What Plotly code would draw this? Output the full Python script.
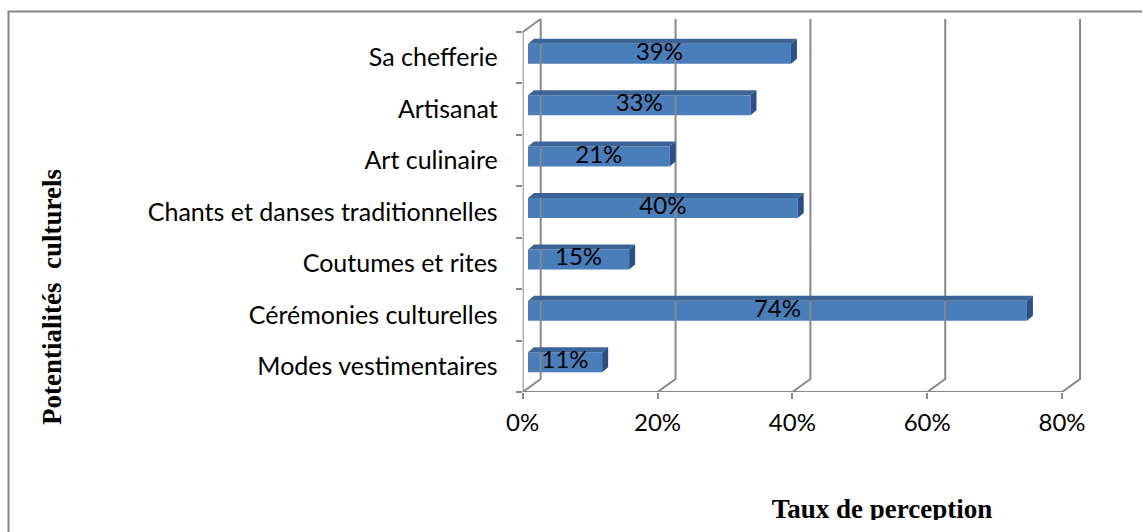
import plotly.graph_objects as go

# ---------------- data ----------------
categories = ["Modes vestimentaires", "Cérémonies culturelles", "Coutumes et rites",
              "Chants et danses traditionnelles", "Art culinaire", "Artisanat", "Sa chefferie"]
values = [11, 74, 15, 40, 21, 33, 39]
x_ticks = [0, 20, 40, 60, 80]
x_tick_labels = ["0%", "20%", "40%", "60%", "80%"]
y_title = "Potentialités  culturels"
x_title = "Taux de perception"

# ---------------- geometry / style ----------------
W, H = 1142, 532
X0_PX, X1_PX = 522.7, 1092.0
PX_PER_PCT = 6.742
Y_BOT_PX, Y_TOP_PX = 392.0, 18.0
PX_PER_CAT = 51.43
XMAX = (X1_PX - X0_PX) / PX_PER_PCT
YMIN = -0.5
YMAX = YMIN + (Y_BOT_PX - Y_TOP_PX) / PX_PER_CAT

DEPTH_DX = 18 / PX_PER_PCT
DEPTH_DY = 13 / PX_PER_CAT
BAR_DX = 5.3 / PX_PER_PCT
BAR_DY = 4 / PX_PER_CAT
BAR_W = 20 / PX_PER_CAT
TOP_DX = 6 / PX_PER_PCT
TOP_DY = 5 / PX_PER_CAT

GRID = "#898989"
FRONT = "#4A7EBB"
TOPC = "#3B6597"
SIDE = "#2D5080"
LABEL_FONT = "Lato"
LABEL_SIZE = 24
CAT_SIZE = 25
n = len(categories)
ypos = list(range(n))
y_top_cat = YMIN + n

fig = go.Figure()

# --- walls / gridlines (back wall shifted in depth) ---
gx, gy = [], []
for t in x_ticks:
    gx += [t, t + DEPTH_DX, t + DEPTH_DX, None]
    gy += [YMIN, YMIN + DEPTH_DY, y_top_cat + DEPTH_DY, None]
gx += [x_ticks[0], x_ticks[-1], None]
gy += [YMIN, YMIN, None]
gx += [0, 0, DEPTH_DX, None]
gy += [YMIN, y_top_cat, y_top_cat + DEPTH_DY, None]
fig.add_trace(go.Scatter(x=gx, y=gy, mode="lines", line=dict(color=GRID, width=2),
                         hoverinfo="skip", showlegend=False, cliponaxis=False))

# --- bars: front faces ---
fig.add_trace(go.Bar(
    y=[p + BAR_DY for p in ypos], x=values, base=[BAR_DX] * n, orientation="h",
    width=BAR_W, marker=dict(color=FRONT, line=dict(width=0)),
    showlegend=False, hoverinfo="skip", textposition="none"))

# --- bars: top and side faces ---
tx, ty, sx, sy = [], [], [], []
for p, v in zip(ypos, values):
    s = BAR_DX
    e = BAR_DX + v
    yt = p + BAR_DY + BAR_W / 2
    yb = p + BAR_DY - BAR_W / 2
    tx += [s, e, e + TOP_DX, s + TOP_DX, s, None]
    ty += [yt, yt, yt + TOP_DY, yt + TOP_DY, yt, None]
    sx += [e, e + TOP_DX, e + TOP_DX, e, e, None]
    sy += [yt, yt + TOP_DY, yb + TOP_DY, yb, yt, None]
fig.add_trace(go.Scatter(x=tx, y=ty, mode="lines", fill="toself", fillcolor=TOPC,
                         line=dict(width=0, color=TOPC), hoverinfo="skip", showlegend=False))
fig.add_trace(go.Scatter(x=sx, y=sy, mode="lines", fill="toself", fillcolor=SIDE,
                         line=dict(width=0, color=SIDE), hoverinfo="skip", showlegend=False))

# --- value labels ---
fig.add_trace(go.Scatter(
    x=[BAR_DX + v / 2 for v in values], y=[p + BAR_DY for p in ypos],
    text=[f"{v}%" for v in values], mode="text", textposition="middle center",
    textfont=dict(family=LABEL_FONT, size=LABEL_SIZE, color="#000000"),
    hoverinfo="skip", showlegend=False, cliponaxis=False))

# --- bottom title, clipped like the reference ---
fig.add_trace(go.Scatter(
    x=[882], y=[-511.5], text=[f"<b>{x_title}</b>"], mode="text", textposition="middle center",
    textfont=dict(family="Liberation Serif", size=27, color="#000000"),
    xaxis="x2", yaxis="y2", hoverinfo="skip", showlegend=False, cliponaxis=True))

fig.update_layout(
    template="none",
    width=W, height=H, margin=dict(l=0, r=0, t=0, b=0, autoexpand=False),
    paper_bgcolor="white", plot_bgcolor="white",
    xaxis=dict(domain=[X0_PX / W, X1_PX / W], range=[0, XMAX], showgrid=False, zeroline=False,
               showline=False, tickvals=x_ticks, ticktext=x_tick_labels, automargin=False,
               ticks="outside", ticklen=6, tickwidth=2, tickcolor=GRID,
               tickfont=dict(family=LABEL_FONT, size=LABEL_SIZE, color="#000000"),
               ticklabelstandoff=3, fixedrange=True),
    yaxis=dict(domain=[(H - Y_BOT_PX) / H, (H - Y_TOP_PX) / H], range=[YMIN, YMAX],
               showgrid=False, zeroline=False, showline=False, automargin=False,
               tickvals=ypos, ticktext=categories, ticks="", ticklen=0,
               minor=dict(tickvals=[YMIN + k for k in range(n + 1)], ticks="outside",
                          ticklen=6, tickwidth=2, tickcolor=GRID, showgrid=False),
               tickfont=dict(family=LABEL_FONT, size=CAT_SIZE, color="#000000"),
               ticklabelstandoff=24, fixedrange=True),
    xaxis2=dict(domain=[0, 1], range=[0, W], visible=False, anchor="y2", fixedrange=True,
                automargin=False),
    yaxis2=dict(domain=[(H - 520) / H, (H - 470) / H], range=[-520, -470], visible=False,
                anchor="x2", fixedrange=True, automargin=False),
    annotations=[dict(text=f"<b>{y_title}</b>", x=52 / W, y=(H - 297) / H, xref="paper", yref="paper",
                      textangle=-90, showarrow=False, xanchor="center", yanchor="middle",
                      font=dict(family="Liberation Serif", size=27, color="#000000"))],
    shapes=[
        dict(type="line", xref="paper", yref="paper", x0=8.5 / W, x1=8.5 / W, y0=0, y1=(H - 11.5) / H,
             line=dict(color="#868686", width=2)),
        dict(type="line", xref="paper", yref="paper", x0=7.5 / W, x1=1, y0=(H - 11.5) / H, y1=(H - 11.5) / H,
             line=dict(color="#868686", width=2)),
    ],
)

fig.write_html("out.html", config={"displayModeBar": False},
               post_script="document.body.style.margin='0';document.body.style.overflow='hidden';")
